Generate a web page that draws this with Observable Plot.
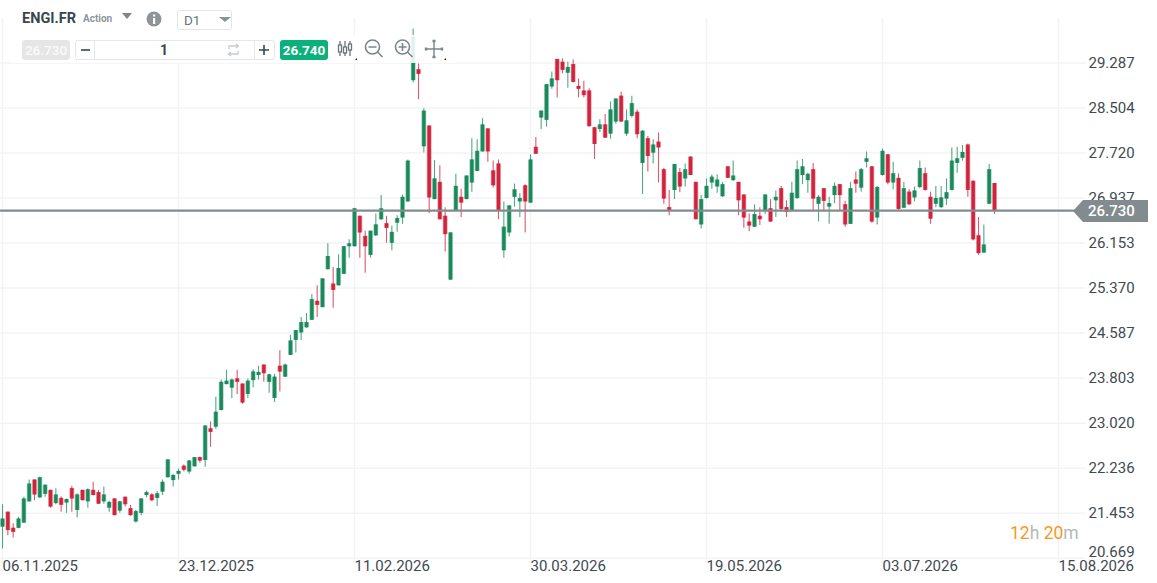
<!DOCTYPE html>
<html><head><meta charset="utf-8">
<script src="https://cdn.jsdelivr.net/npm/d3@7"></script>
<script src="https://cdn.jsdelivr.net/npm/@observablehq/plot@0.6"></script>
<style>
html,body{margin:0;padding:0;background:#fff;width:1157px;height:583px;overflow:hidden;font-family:Roboto,sans-serif}
#wrap{position:relative;width:1157px;height:583px}
#wrap svg.plot{position:absolute;left:0;top:0}
.ui{position:absolute;box-sizing:border-box;white-space:nowrap}
</style></head><body><div id="wrap"></div>
<script>
const opens=[21.21,21.47,21.19,21.19,21.28,21.65,22.03,21.72,21.78,21.85,
21.62,21.71,21.63,21.88,21.50,21.85,21.65,21.85,21.81,21.65,
21.54,21.70,21.49,21.73,21.53,21.30,21.45,21.76,21.77,21.71,
21.82,22.07,22.02,22.13,22.27,22.17,22.26,22.42,22.37,22.92,
22.95,23.24,23.69,23.63,23.79,23.70,23.52,23.76,23.85,24.03,
23.73,23.45,24.01,23.82,24.20,24.46,24.59,24.68,24.81,25.14,
25.03,25.69,25.44,25.41,25.61,26.09,26.09,26.62,26.27,25.94,
26.28,26.56,26.49,26.15,26.50,26.59,26.87,28.98,29.17,27.83,
28.19,26.91,27.21,26.62,25.51,26.71,26.95,26.91,27.20,27.40,
27.74,28.14,27.41,27.53,26.02,26.33,26.95,26.87,27.15,26.85,
27.82,28.33,28.29,28.87,29.35,29.30,29.11,29.26,28.88,28.80,
28.80,28.16,28.13,28.21,28.05,28.26,28.71,28.05,28.36,28.43,
27.54,27.97,27.72,27.91,27.43,26.77,27.07,27.38,27.27,27.65,
27.21,26.47,26.93,27.20,27.13,26.96,27.48,27.24,27.21,26.99,
26.52,26.43,26.62,26.72,26.75,26.89,27.10,26.77,26.71,26.93,
27.33,27.24,27.43,26.83,27.10,26.78,26.98,27.17,26.82,26.48,
27.25,27.11,27.56,27.48,26.59,27.33,27.69,27.20,27.28,26.76,
27.04,26.94,27.12,27.36,26.95,26.83,26.77,26.92,27.07,27.54,
27.63,27.86,27.23,26.28,25.98,26.83,27.19];
const highs=[21.60,21.47,21.27,21.38,21.73,22.03,22.03,22.08,21.94,21.85,
21.88,21.74,21.70,21.92,21.79,21.85,21.88,21.99,21.85,21.91,
21.66,21.70,21.66,21.73,21.59,21.50,21.70,21.84,21.79,21.83,
22.03,22.38,22.12,22.22,22.29,22.37,22.42,22.43,22.97,23.04,
23.47,23.77,23.94,23.79,23.94,23.70,23.79,23.95,24.01,24.03,
23.87,23.87,24.28,24.05,24.55,24.63,24.86,24.93,25.26,25.41,
25.53,26.14,25.73,25.95,26.09,26.21,26.76,26.62,26.36,26.36,
26.66,26.98,26.62,26.45,26.63,26.99,27.60,29.88,29.27,28.49,
28.19,27.59,27.50,26.77,26.33,27.35,27.09,27.32,27.97,27.95,
28.32,28.14,27.58,27.60,26.87,26.80,27.18,27.01,27.17,27.69,
27.99,28.45,28.91,29.13,29.35,29.36,29.30,29.34,29.01,28.97,
28.84,28.17,28.30,28.39,28.61,28.66,28.78,28.47,28.71,28.47,
28.11,28.01,27.95,28.07,27.45,27.07,27.52,27.45,27.53,27.65,
27.21,26.98,27.27,27.34,27.34,27.21,27.48,27.58,27.21,26.99,
26.66,26.82,26.77,26.99,26.91,27.06,27.14,26.89,27.21,27.58,
27.61,27.37,27.54,26.98,27.10,26.95,27.20,27.17,26.88,27.21,
27.39,27.45,27.74,27.48,27.14,27.79,27.69,27.56,27.36,27.21,
27.08,27.13,27.58,27.46,27.04,27.14,27.14,27.27,27.81,27.82,
27.85,27.88,27.23,26.60,26.47,27.52,27.19];
const lows=[20.83,21.06,21.02,21.18,21.28,21.65,21.67,21.71,21.73,21.54,
21.60,21.47,21.45,21.47,21.37,21.67,21.54,21.75,21.60,21.61,
21.47,21.41,21.45,21.56,21.40,21.28,21.41,21.72,21.65,21.57,
21.76,22.07,21.91,22.03,22.17,22.13,22.26,22.32,22.25,22.60,
22.91,23.23,23.69,23.45,23.52,23.35,23.45,23.63,23.77,23.73,
23.54,23.38,23.56,23.82,24.20,24.24,24.46,24.67,24.81,24.86,
25.03,25.69,25.02,25.41,25.61,25.89,26.09,25.89,25.63,25.89,
26.27,26.55,26.15,26.02,26.34,26.48,26.87,28.94,28.65,27.72,
26.67,26.91,26.56,26.00,25.50,26.71,26.60,26.91,27.04,27.40,
27.74,27.56,27.11,26.56,25.89,26.26,26.78,26.60,26.33,26.85,
27.70,28.13,28.17,28.83,28.68,29.10,28.85,28.94,28.68,28.68,
28.17,27.61,28.08,27.98,27.96,28.22,28.26,28.01,28.33,27.97,
27.00,27.39,27.53,27.20,26.83,26.63,26.91,27.03,27.13,27.33,
26.56,26.40,26.92,27.09,27.02,26.95,27.28,27.23,26.63,26.41,
26.35,26.43,26.46,26.65,26.52,26.60,26.72,26.60,26.70,26.91,
27.17,27.02,26.72,26.52,26.72,26.48,26.84,26.72,26.43,26.48,
27.02,27.04,27.46,26.50,26.47,27.32,27.17,27.08,26.72,26.76,
26.81,26.87,27.10,27.06,26.48,26.77,26.76,26.81,27.06,27.37,
27.58,26.95,26.19,25.94,25.98,26.82,26.65];
const closes=[21.35,21.15,21.12,21.35,21.70,21.96,21.77,22.07,21.94,21.56,
21.77,21.59,21.69,21.70,21.77,21.67,21.86,21.76,21.61,21.77,
21.64,21.41,21.65,21.60,21.41,21.48,21.70,21.81,21.67,21.79,
21.99,22.38,22.11,22.18,22.20,22.36,22.42,22.36,22.97,22.86,
23.21,23.73,23.75,23.77,23.73,23.37,23.75,23.91,23.90,23.88,
23.86,23.82,23.91,24.03,24.45,24.63,24.77,24.77,25.17,25.07,
25.53,25.92,25.33,25.71,26.09,26.14,26.75,26.33,26.09,26.36,
26.47,26.75,26.41,26.34,26.58,26.95,27.58,29.74,29.09,28.45,
26.94,27.27,26.56,26.30,26.33,27.14,26.85,27.32,27.60,27.75,
28.21,27.74,27.15,26.72,26.43,26.80,27.08,26.93,26.87,27.60,
27.70,28.45,28.91,29.01,28.98,29.16,29.21,28.95,28.83,28.72,
28.18,27.87,28.21,27.98,28.47,28.66,28.26,28.28,28.58,28.04,
28.10,27.66,27.86,27.81,26.92,26.71,27.52,27.13,27.43,27.33,
26.56,26.91,27.14,27.30,27.25,27.17,27.28,27.32,26.89,26.59,
26.45,26.65,26.56,26.99,26.52,26.95,26.74,26.69,27.02,27.43,
27.48,27.35,26.92,26.95,26.88,26.84,27.14,26.98,26.47,27.10,
27.18,27.43,27.62,26.52,27.12,27.75,27.20,27.36,26.74,27.10,
26.82,27.06,27.45,27.07,26.57,26.93,26.94,27.03,27.58,27.62,
27.73,27.07,26.21,25.97,26.12,27.43,26.72];
const priceTicks=[29.287,28.504,27.720,26.937,26.153,25.370,24.587,23.803,23.020,22.236,21.453,20.669];
const dateLabels=["06.11.2025","23.12.2025","11.02.2026","30.03.2026","19.05.2026","03.07.2026","15.08.2026"];
const dateSlots=[0,33,66,99,132,165,198];
const lastLabel="26.730";
const lastLevel=closes[closes.length-1];

const green="#1a8a5e", red="#d2233d", grid="#f2f3f4", ink="#3f4a52", lineCol="#828c8e";
const bars=opens.map((o,i)=>({i,o,h:highs[i],l:lows[i],c:closes[i]}));
const up=bars.filter(d=>d.c>=d.o), down=bars.filter(d=>d.c<d.o);
const candle=(rows,col)=>[
  Plot.ruleX(rows,{x:"i",y1:"l",y2:"h",stroke:col,strokeWidth:1.1,strokeOpacity:.75}),
  Plot.ruleX(rows,{x:"i",y1:"o",y2:"c",stroke:col,strokeWidth:4.8,strokeOpacity:.45}),
  Plot.ruleX(rows,{x:"i",y1:"o",y2:"c",stroke:col,strokeWidth:3.4})
];
const chart=Plot.plot({
  width:1157,height:583,marginLeft:0,marginRight:72,marginTop:18,marginBottom:20,
  style:{fontFamily:"Roboto, sans-serif",background:"transparent",overflow:"visible"},
  x:{type:"linear",domain:[-0.376,203.06],axis:null},
  y:{type:"linear",domain:[20.577,30.062],axis:null},
  marks:[
    Plot.ruleY(priceTicks,{stroke:grid,strokeWidth:1.5}),
    Plot.ruleX(dateSlots,{stroke:grid,strokeWidth:1.5}),
    ...candle(up,green),...candle(down,red),
    Plot.ruleY([lastLevel],{stroke:lineCol,strokeWidth:2.2}),
    Plot.text(priceTicks.slice(0,-1),{y:d=>d,text:d=>d.toFixed(3),frameAnchor:"right",dx:3,textAnchor:"start",fontSize:15,fill:ink}),
    Plot.text(priceTicks.slice(-1),{y:d=>d,text:d=>d.toFixed(3),frameAnchor:"right",dx:3,dy:-6,textAnchor:"start",fontSize:15,fill:ink}),
    Plot.text(dateSlots,{x:d=>d,text:(d,i)=>dateLabels[i],frameAnchor:"bottom",dy:3,lineAnchor:"middle",textAnchor:"start",fontSize:15,fill:ink})
  ]
});
const wrap=document.getElementById("wrap");
wrap.appendChild(chart);
const ui=document.createElement("div");
ui.innerHTML=`
<div class="ui" style="left:10px;top:0;width:230px;height:37px;background:#fff"></div>
<div class="ui" style="left:10px;top:35px;width:445px;height:28px;background:rgba(255,255,255,.88)"></div>
<div class="ui" style="left:1073px;top:200px;width:75px;height:22px;background:${lineCol};clip-path:polygon(0 50%,10px 0,100% 0,100% 100%,10px 100%)"></div>
<div class="ui" style="left:1088px;top:200px;height:22px;line-height:22px;font-size:15px;font-weight:500;color:#fff">${lastLabel}</div>
<div class="ui" style="left:1010px;top:522px;line-height:22px;font-size:17.5px;color:#b5b9bc"><span style="color:#f7981d">12</span>h <span style="color:#f7981d">20</span>m</div>
<div class="ui" style="left:22px;top:10px;line-height:18px;font-size:14.5px;font-weight:700;color:#37474f">ENGI.FR</div>
<div class="ui" style="left:83px;top:10px;line-height:18px;font-size:10px;font-weight:700;color:#8c969c">Action</div>
<svg class="ui" style="left:0;top:0" width="460" height="64">
 <path d="M122 13h10l-5 6z" fill="#7d878d"/>
 <circle cx="154" cy="19" r="7.5" fill="#8e9498"/>
 <rect x="153" y="18" width="2.2" height="6" fill="#fff"/><rect x="153" y="14.5" width="2.2" height="2" fill="#fff"/>
 <rect x="177.5" y="10.5" width="54" height="19" rx="2" fill="#fff" stroke="#e2e4e5"/>
 <path d="M219 17h12l-6 5z" fill="#8a9398"/>
 <rect x="75.5" y="40.5" width="199" height="19" rx="2" fill="#fff" stroke="#e4e6e7"/>
 <path d="M94.5 41v18M254.5 41v18" stroke="#e4e6e7"/>
 <path d="M81 50h9" stroke="#37474f" stroke-width="1.6"/>
 <path d="M259 50h10M264 45v10" stroke="#37474f" stroke-width="1.6"/>
 <g fill="none" stroke="#c9cdcf" stroke-width="1.4"><path d="M229 49v-3h9M236 44l2.400 2-2.400 2M238 51v3h-9M231 52l-2.400 2 2.400 2"/></g>
 <g fill="none" stroke="#69757c" stroke-width="1.3">
  <path d="M340 41v15M345 41v15M350 41v15"/>
  <rect x="338.500" y="45" width="3" height="7" fill="#fff"/><rect x="343.500" y="47" width="3" height="6" fill="#fff"/><rect x="348.500" y="44" width="3" height="6" fill="#fff"/>
 </g>
 <g fill="none" stroke="#7b868c" stroke-width="1.6">
  <circle cx="372.500" cy="47" r="7"/><path d="M368.500 47h8M377.500 52l5 5"/>
  <circle cx="402.500" cy="47" r="7"/><path d="M398.500 47h8M402.500 43v8M407.500 52l5 5"/>
 </g>
 <g fill="none" stroke="#7b868c" stroke-width="1.4">
  <path d="M426 49h16M434 41v16"/><path d="M426 47.500v3M442 47.500v3M432.500 41h3M432.500 57h3" stroke-width="2.400"/>
 </g>
 <path d="M357 58v2h-2zM446 58v2h-2z" fill="#111"/>
</svg>
<div class="ui" style="left:22px;top:40px;width:48px;height:20px;line-height:20px;text-align:center;background:#e6e6e6;border-radius:3px;font-size:13.5px;font-weight:500;color:#fafafa">26.730</div>
<div class="ui" style="left:160px;top:41px;line-height:18px;font-size:14px;font-weight:700;color:#37474f">1</div>
<div class="ui" style="left:280px;top:40px;width:48px;height:20px;line-height:20px;text-align:center;background:#0bb17b;border-radius:3px;font-size:13.5px;font-weight:700;color:#fff">26.740</div>
<div class="ui" style="left:184px;top:11px;line-height:18px;font-size:13.5px;color:#6c757b">D1</div>`;
wrap.appendChild(ui);
</script></body></html>
